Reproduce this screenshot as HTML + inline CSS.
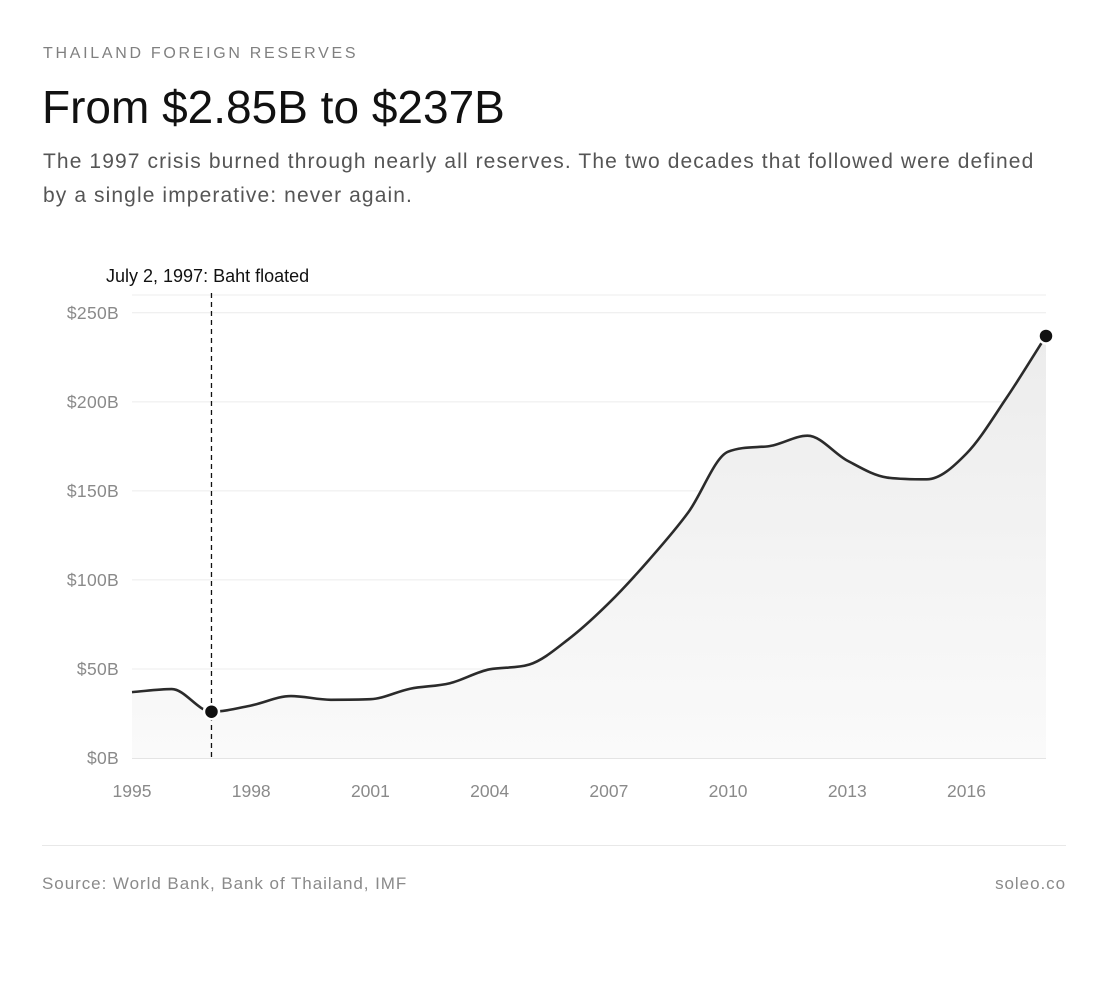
<!DOCTYPE html>
<html><head><meta charset="utf-8"><style>
body{margin:0;background:#fff;width:1120px;height:988px;overflow:hidden;font-family:"Liberation Sans",sans-serif;}
.k{position:absolute;left:43px;top:45px;font-size:16px;letter-spacing:2.7px;color:#808080;}
.t{position:absolute;left:42px;top:80px;font-size:46px;color:#111;}
.s{position:absolute;left:43px;top:145px;font-size:21px;letter-spacing:1.1px;line-height:34px;color:#555;width:1012px;}
.f{position:absolute;top:874px;font-size:17px;letter-spacing:0.95px;color:#8a8a8a;}
.hr{position:absolute;left:42px;width:1024px;top:845px;height:1px;background:#e8e8e8;}
svg{position:absolute;left:0;top:0;}
</style></head><body>
<div class="k">THAILAND FOREIGN RESERVES</div>
<div class="t">From $2.85B to $237B</div>
<div class="s">The 1997 crisis burned through nearly all reserves. The two decades that followed were defined by a single imperative: never again.</div>
<svg id="c" width="1120" height="988"></svg>
<div class="hr"></div>
<div class="f" style="left:42px">Source: World Bank, Bank of Thailand, IMF</div>
<div class="f" style="right:54px">soleo.co</div>
<script>
const years=[1995,1996,1997,1998,1999,2000,2001,2002,2003,2004,2005,2006,2007,2008,2009,2010,2011,2012,2013,2014,2015,2016,2017,2018];
const reserves=[37,38.7,26,29.5,34.8,32.7,33,38.9,42,49.8,52.5,67,87,111,138,172,175,181,167,157.5,156.5,171,202,237];
const yTicks=[0,50,100,150,200,250];
const xTicks=[1995,1998,2001,2004,2007,2010,2013,2016];
const eventYear=1997, eventLabel="July 2, 1997: Baht floated";
const PL=132,PR=1046,PT=295,PB=758,YMAX=260;
const xs=v=>PL+(v-1995)/(2018-1995)*(PR-PL);
const ys=v=>PB-v/YMAX*(PB-PT);
const NS="http://www.w3.org/2000/svg";
const svgEl=document.getElementById('c');
function mk(tag,attrs,parent){const e=document.createElementNS(NS,tag);for(const k in attrs)e.setAttribute(k,attrs[k]);(parent||svgEl).appendChild(e);return e;}
const defs=mk('defs',{});
const grad=mk('linearGradient',{id:'ag',x1:0,y1:0,x2:0,y2:1},defs);
mk('stop',{offset:'0','stop-color':'#ececec'},grad);mk('stop',{offset:'1','stop-color':'#fafafa'},grad);
const topBorder=mk('line',{x1:PL,x2:PR,y1:PT,y2:PT,stroke:'#ececec','stroke-width':1});


yTicks.forEach(t=>{
 const ln=mk('line',{x1:PL,x2:PR,y1:ys(t),y2:ys(t),stroke:t===0?'#dcdcdc':'#ececec','stroke-width':t===0?1.5:1});
 
 
 const tx=mk('text',{x:119,y:ys(t)+6,'text-anchor':'end','font-size':17.5,'letter-spacing':0.3,fill:'#8a8a8a'});tx.textContent='$'+t+'B';
 
 
});
xTicks.forEach(t=>{
 const tx=mk('text',{x:xs(t),y:797,'text-anchor':'middle','font-size':17.5,fill:'#8a8a8a'});tx.textContent=t;
 
 
});
const pts=years.map((yr,i)=>[xs(yr),ys(reserves[i])]);
function curve(p){const n=p.length,d=[],m=[];for(let i=0;i<n-1;i++)d.push((p[i+1][1]-p[i][1])/(p[i+1][0]-p[i][0]));
 m[0]=d[0];m[n-1]=d[n-2];for(let i=1;i<n-1;i++){m[i]=d[i-1]*d[i]<=0?0:(d[i-1]+d[i])/2;}
 for(let i=0;i<n-1;i++){if(d[i]===0){m[i]=m[i+1]=0;continue;}const a=m[i]/d[i],b=m[i+1]/d[i],s=a*a+b*b;if(s>9){const t=3/Math.sqrt(s);m[i]=t*a*d[i];m[i+1]=t*b*d[i];}}
 let s='M'+p[0][0]+','+p[0][1];for(let i=0;i<n-1;i++){const h=(p[i+1][0]-p[i][0])/3;s+=`C${p[i][0]+h},${p[i][1]+m[i]*h} ${p[i+1][0]-h},${p[i+1][1]-m[i+1]*h} ${p[i+1][0]},${p[i+1][1]}`;}return s;}
const lp=curve(pts);
const area=mk('path',{d:lp+`L${PR},${PB}L${PL},${PB}Z`,fill:'url(#ag)'});


const line=mk('path',{d:lp,fill:'none',stroke:'#2b2b2b','stroke-width':2.6});


const ev=mk('line',{x1:xs(eventYear),x2:xs(eventYear),y1:PT-2,y2:PB,stroke:'#111','stroke-width':1.3,'stroke-dasharray':'5,4'});


const el=mk('text',{x:106,y:282,'font-size':18,fill:'#111'});el.textContent=eventLabel;


[eventYear,2018].forEach(yr=>{const i=years.indexOf(yr);
 const c=mk('circle',{cx:xs(yr),cy:ys(reserves[i]),r:7.5,fill:'#111',stroke:'#fff','stroke-width':2.5});
 
 
});
</script>
</body></html>
